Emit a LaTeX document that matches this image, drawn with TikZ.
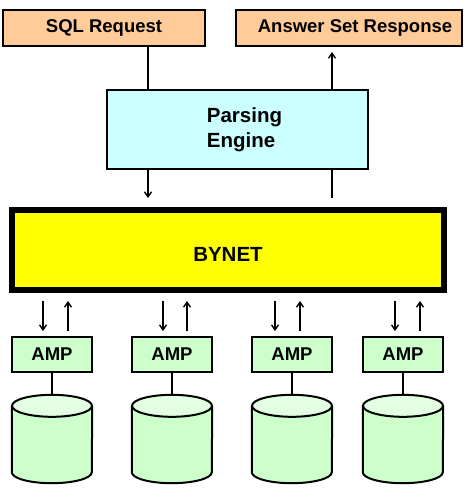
\documentclass[tikz,border=0pt]{standalone}
\usepackage{fontspec}
\setmainfont{Liberation Sans}
\usetikzlibrary{arrows.meta,calc}
\definecolor{sqlfill}{HTML}{FFCC99}
\definecolor{pefill}{HTML}{CCFFFF}
\definecolor{ampfill}{HTML}{CCFFCC}
\definecolor{topfill}{HTML}{E2FFE2}
\definecolor{bynetfill}{HTML}{FFFF00}
\tikzset{
  txt/.style={font=\bfseries\fontsize{18.5}{22}\selectfont},
  bigtxt/.style={font=\bfseries\fontsize{20.5}{25}\selectfont},
  topbox/.style={draw, line width=2pt, fill=sqlfill, txt, inner sep=0pt, minimum height=36pt},
  pebox/.style={draw, line width=2pt, fill=pefill, bigtxt, align=left, inner sep=0pt, minimum width=261pt, minimum height=79pt},
  bynetbox/.style={draw, line width=6pt, fill=bynetfill, bigtxt, inner sep=0pt, minimum width=432pt, minimum height=80pt},
  ampbox/.style={draw, line width=2pt, fill=ampfill, txt, inner sep=0pt, minimum width=80pt, minimum height=35pt},
  diskarea/.style={draw=none, inner sep=0pt, minimum width=80pt, minimum height=88pt},
  conn/.style={line width=1.6pt},
  arr/.style={line width=1.6pt, -{Straight Barb[length=5pt,width=7pt,line width=1.4pt]}},
}
\newcommand{\mydisk}[1]{%
  \fill[ampfill] ($(#1.north west)+(0,-11pt)$) -- ($(#1.south west)+(0,11pt)$) arc[start angle=180,end angle=360,x radius=40pt,y radius=11pt] -- ($(#1.north east)+(0,-11pt)$) -- cycle;
  \draw[line width=2pt] ($(#1.north west)+(0,-11pt)$) -- ($(#1.south west)+(0,11pt)$) arc[start angle=180,end angle=360,x radius=40pt,y radius=11pt] -- ($(#1.north east)+(0,-11pt)$);
  \draw[line width=2pt, fill=topfill] ($(#1.north)+(0,-11pt)$) ellipse[x radius=40pt, y radius=11pt];
}
\begin{document}
\begin{tikzpicture}[x=1pt,y=1pt]
\useasboundingbox (0,0) rectangle (473,-491);
% top boxes
\node[topbox, minimum width=202pt] (sql) at (104,-28) {SQL Request};
\node[topbox, minimum width=226pt] (asr) at (349,-28) {\hspace*{12pt}Answer Set Response};
% parsing engine
\node[pebox] (pe) at (237.5,-129.5) {\hspace*{14pt}Parsing\\\hspace*{14pt}Engine};
% bynet
\node[bynetbox] (bynet) at (228,-250) {\raisebox{-4pt}[\height][0pt]{BYNET}};
% x positions
\coordinate (xa) at (148,0);
\coordinate (xb) at (332,0);
\draw[conn] (sql.south -| xa) -- (pe.north -| xa);
\draw[arr, shorten >=5pt] (pe.north -| xb) -- (asr.south -| xb);
\draw[arr, shorten >=9pt] (pe.south -| xa) -- (bynet.north -| xa);
\draw[conn, shorten >=9pt] (pe.south -| xb) -- (bynet.north -| xb);
% AMPs and disks
\foreach \i/\cx/\dx/\ux in {1/52/43/68, 2/172/163/187, 3/292/275/300, 4/403/395/420}{
  \node[ampbox] (amp\i) at (\cx,-354.5) {AMP};
  \node[diskarea] (disk\i) at (\cx,-439) {};
  \coordinate (d\i) at (\dx,0);
  \coordinate (u\i) at (\ux,0);
  \draw[arr, shorten <=8pt, shorten >=5pt] (bynet.south -| d\i) -- (amp\i.north -| d\i);
  \draw[arr, shorten <=5pt, shorten >=8pt] (amp\i.north -| u\i) -- (bynet.south -| u\i);
  \mydisk{disk\i}
  \draw[conn] (amp\i.south) -- (disk\i.north);
}
\end{tikzpicture}
\end{document}
